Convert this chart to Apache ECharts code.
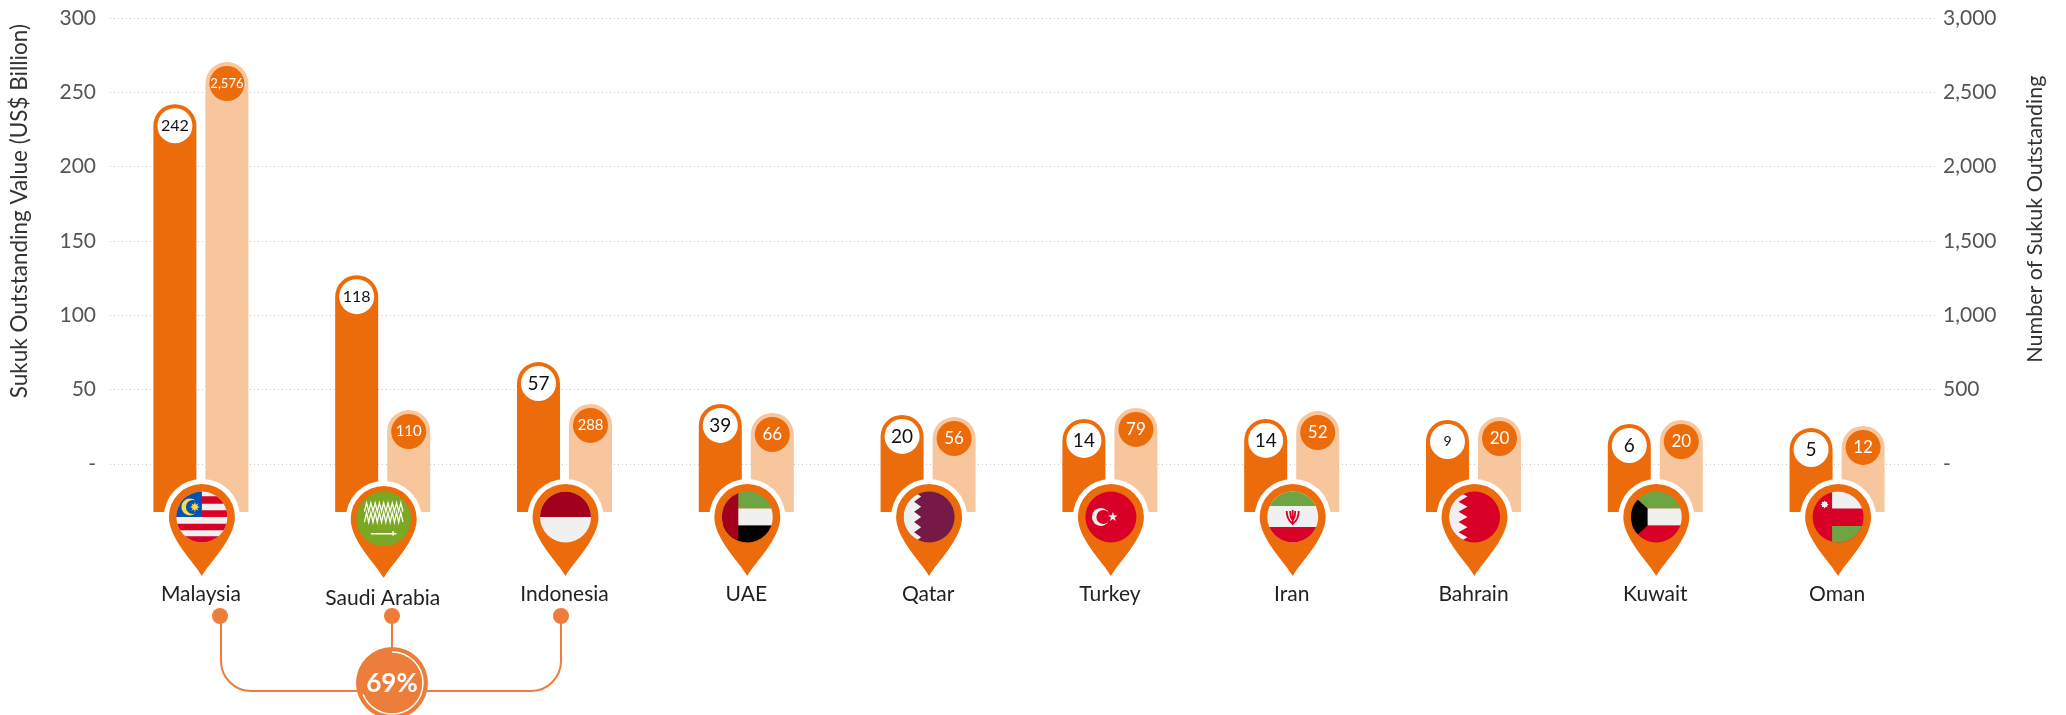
<!DOCTYPE html>
<html><head><meta charset="utf-8">
<style>html,body{margin:0;padding:0;background:#fff}#c{width:2066px;height:715px}</style>
<script src="https://cdn.jsdelivr.net/npm/echarts@6/dist/echarts.min.js"></script>
</head><body><div id="c"></div>
<script>
const categories = ['Malaysia','Saudi Arabia','Indonesia','UAE','Qatar','Turkey','Iran','Bahrain','Kuwait','Oman'];
// Printed values
const valueLabels = [242,118,57,39,20,14,14,9,6,5];
const countLabels = [2576,110,288,66,56,79,52,20,20,12];
// Bar tops as read against each axis in the picture
const valueBarTops = [242,127,68.6,40.4,33,30.3,30.3,29.6,26.9,24.2];
const countBarTops = [2704,363,404,343,316,377,356,316,296,256];
// The bars run on below the zero line, behind the pins
const valueBarFoot = [-32.3,-32.3,-32.3,-32.3,-32.3,-32.3,-32.3,-32.3,-32.3,-32.3];
const countBarFoot = [-323,-323,-323,-323,-323,-323,-323,-323,-323,-323];
const leftTitle = 'Sukuk Outstanding Value (US$ Billion)';
const rightTitle = 'Number of Sukuk Outstanding';
const topThreeShare = '69%';
const topThreeShareValue = 69;

const ORANGE='#EC6B0B', LIGHT='#F7C69D', ACCENT='#EC7D3A', FONT='Lato, "Open Sans", sans-serif';
const RED='#D80027', WHITE='#F0F0F0', GREEN='#6DA544', DARK='#A2001D', BLUE='#0052B4', YEL='#FFDA44';
const rect=(x,y,w,h,fill)=>({type:'rect',shape:{x,y,width:w,height:h},style:{fill}});
const poly=(points,fill)=>({type:'polygon',shape:{points},style:{fill}});
const circ=(cx,cy,r,fill)=>({type:'circle',shape:{cx,cy,r},style:{fill}});
function star(cx,cy,R,r,n,fill,rot){const p=[];for(let k=0;k<2*n;k++){const a=(rot||-Math.PI/2)+k*Math.PI/n,q=k%2?r:R;p.push([cx+q*Math.cos(a),cy+q*Math.sin(a)]);}return poly(p,fill);}
function serrated(xa,xb,fill){const p=[[-30,-30],[xb,-30]];const n=5,h=51/n;for(let k=0;k<n;k++){const y=-25.5+k*h;p.push([xb,y],[xa,y+h/2]);}p.push([xb,25.5],[xb,30],[-30,30]);return poly(p,fill);}
const flags={
 'Malaysia':()=>{const c=[rect(-30,-30,60,60,WHITE)];[[-20.7,-13.3],[-6.7,0],[6.7,13.3],[19.3,30]].forEach(b=>c.push(rect(-30,b[0],60,b[1]-b[0],RED)));
   c.push(rect(-30,-30,30,30,BLUE),circ(-12,-10,8.5,YEL),circ(-9,-10,7,BLUE),star(-7,-10,5,2.4,8,YEL));return c;},
 'Saudi Arabia':()=>{const c=[rect(-30,-30,60,60,'#7AA825')];
   c.push({type:'path',shape:{pathData:'M-18 -7 L-16 -15 L-14 -7 L-12 -15 L-10 -7 L-8 -15 L-6 -7 L-4 -15 L-2 -7 L0 -15 L2 -7 L4 -15 L6 -7 L8 -15 L10 -7 L12 -15 L14 -7 L16 -15 L18 -7 M-18 3 L-16 -6 L-14 3 L-12 -6 L-10 3 L-8 -6 L-6 3 L-4 -6 L-2 3 L0 -6 L2 3 L4 -6 L6 3 L8 -6 L10 3 L12 -6 L14 3 L16 -6 L18 3'},style:{fill:null,stroke:'#fff',lineWidth:1.2}});
   c.push(rect(-12,13,24,1.6,'#fff'),rect(8,11.5,1.6,4,'#fff'));return c;},
 'Indonesia':()=>[rect(-30,-30,60,60,WHITE),rect(-30,-30,60,30,DARK)],
 'UAE':()=>[rect(-30,-30,60,21.5,GREEN),rect(-30,-8.5,60,17,WHITE),rect(-30,8.5,60,22,'#000'),rect(-30,-30,21,60,DARK)],
 'Qatar':()=>[rect(-30,-30,60,60,'#751A46'),serrated(-8,-15,WHITE)],
 'Turkey':()=>[rect(-30,-30,60,60,RED),circ(-10,0,9,WHITE),circ(-7.5,0,7,RED),star(2,0,5,2,5,WHITE)],
 'Iran':()=>[rect(-30,-30,60,60,WHITE),rect(-30,-30,60,19,GREEN),rect(-30,10,60,20,RED),
   {type:'path',shape:{pathData:'M-6 -6 C-6 3 -2 5 0 7 C2 5 6 3 6 -6 M-2.5 -6 C-2.5 0 -1 2 0 3 C1 2 2.5 0 2.5 -6 M0 -7 L0 7'},style:{fill:null,stroke:RED,lineWidth:1.8}}],
 'Bahrain':()=>[rect(-30,-30,60,60,RED),serrated(-7,-16,WHITE)],
 'Kuwait':()=>[rect(-30,-30,60,21.5,GREEN),rect(-30,-8.5,60,17,WHITE),rect(-30,8.5,60,22,RED),poly([[-30,-17],[-18,-17],[-8.7,-8.5],[-8.7,8.5],[-18,17],[-30,17]],'#000')],
 'Oman':()=>[rect(-30,-30,60,60,RED),rect(-6,-30,40,21.5,WHITE),rect(-6,9,40,22,GREEN),star(-13.5,-12.5,4,2.6,8,WHITE)]
};
function renderPin(params,api){
  const i=api.value(0), p=api.coord([i,0]), name=categories[i];
  const big=name==='Saudi Arabia', dy=big?2:0, fr=big?27.3:25.5;
  return {type:'group',x:p[0]+1,y:p[1]+53+dy,silent:true,children:[
    circ(0,0,38,'#fff'),
    {type:'path',shape:{pathData:'M0 59 C-7 46 -33 22 -33 0 A33 33 0 1 1 33 0 C33 22 7 46 0 59 Z'},style:{fill:ORANGE}},
    {type:'group',scaleX:fr/25.5,scaleY:fr/25.5,clipPath:{type:'circle',shape:{cx:0,cy:0,r:25.5}},children:flags[name]()}
  ]};
}
const badge=(bg,color)=>({show:true,position:'insideTop',distance:4,
  backgroundColor:bg,color,width:35,height:35,borderRadius:18,lineHeight:35,
  fontFamily:FONT});
const valueSize=v=>v===9?14:(v>=100?16:19);
const countSize=v=>v>=1000?13:(v>=100?15:17);
const barData=(tops,labels,size)=>tops.map((t,i)=>({value:t,label:{
  formatter:labels[i].toLocaleString('en-US'),fontSize:size(labels[i])}}));
const tick=(v)=>v<0?'':(v===0?'-':v.toLocaleString('en-US'));
const yBase={type:'value',axisLine:{show:false},axisTick:{show:false},nameLocation:'middle'};
const nameStyle=(fontSize,lift)=>({fontFamily:FONT,fontSize,color:'#333',padding:[0,0,0,lift]});
const seg=(x1,y1,x2,y2)=>({type:'line',shape:{x1,y1,x2,y2},style:{stroke:ACCENT,lineWidth:2}});
const corner=(cx,cy,a,b)=>({type:'arc',shape:{cx,cy,r:30,startAngle:a,endAngle:b,clockwise:true},style:{fill:null,stroke:ACCENT,lineWidth:2}});
const barBase={type:'bar',xAxisIndex:1,barWidth:43,barGap:'21%'};
const foot=(data,stack,yAxisIndex,color)=>({...barBase,stack,yAxisIndex,data,itemStyle:{color},silent:true});
const hiddenY=(min,max,interval)=>({type:'value',gridIndex:1,min,max,interval,show:false,splitLine:{show:false}});
const chart=echarts.init(document.getElementById('c'),null,{renderer:'canvas'});
chart.setOption({
  animation:false,backgroundColor:'#fff',
  grid:[
    {left:108,top:18,width:1827,height:520.3},   // axes and gridlines
    {left:110,top:18,width:1818,height:520.3}    // columns
  ],
  xAxis:[
    {type:'category',gridIndex:0,data:categories,show:false},
    {type:'category',gridIndex:1,data:categories.map(n=>n==='Saudi Arabia'?{value:n,textStyle:{padding:[4,0,0,0]}}:n),
      position:'bottom',axisLine:{show:false,onZero:false},axisTick:{show:false},
      axisLabel:{interval:0,margin:45,fontFamily:FONT,fontSize:21,color:'#222'}}
  ],
  yAxis:[
    {...yBase,gridIndex:0,min:-50,max:300,interval:50,position:'left',name:leftTitle,nameGap:79,nameRotate:90,
      nameTextStyle:nameStyle(22.5,134),
      axisLabel:{margin:14,fontFamily:FONT,fontSize:21,color:'#555',formatter:tick},
      splitLine:{show:true,showMinLine:false,lineStyle:{type:[1,3],color:'#c8c8c8',width:1}}},
    {...yBase,gridIndex:0,min:-500,max:3000,interval:500,position:'right',name:rightTitle,nameGap:89,nameRotate:90,
      nameTextStyle:nameStyle(21.5,118),
      axisLabel:{margin:8,fontFamily:FONT,fontSize:21,color:'#555',formatter:tick},
      splitLine:{show:false}},
    hiddenY(-50,300,50),
    hiddenY(-500,3000,500)
  ],
  series:[
    foot(valueBarFoot,'value',2,ORANGE),
    foot(countBarFoot,'count',3,LIGHT),
    {...barBase,name:'Value',stack:'value',yAxisIndex:2,data:barData(valueBarTops,valueLabels,valueSize),
      itemStyle:{color:ORANGE,borderRadius:[21.5,21.5,0,0]},label:badge('#fff','#111')},
    {...barBase,name:'Count',stack:'count',yAxisIndex:3,data:barData(countBarTops,countLabels,countSize),
      itemStyle:{color:LIGHT,borderRadius:[21.5,21.5,0,0]},label:badge(ORANGE,'#fff')},
    {type:'custom',xAxisIndex:1,yAxisIndex:2,z:10,clip:false,renderItem:renderPin,data:categories.map((_,i)=>[i]),encode:{x:0},silent:true}
  ],
  graphic:[
    {type:'group',z:20,silent:true,children:[
      {type:'circle',shape:{cx:220,cy:616,r:8},style:{fill:ACCENT}},
      {type:'circle',shape:{cx:392,cy:616,r:8},style:{fill:ACCENT}},
      {type:'circle',shape:{cx:561,cy:616,r:8},style:{fill:ACCENT}},
      seg(221,616,221,661),corner(251,661,Math.PI/2,Math.PI),seg(251,691,531,691),corner(531,661,0,Math.PI/2),seg(561,661,561,616),seg(392,616,392,650),
      {type:'circle',shape:{cx:392,cy:683,r:36},style:{fill:ACCENT}},
      {type:'arc',shape:{cx:392,cy:683,r:31,startAngle:-Math.PI/2,endAngle:-Math.PI/2+2*Math.PI*topThreeShareValue/100,clockwise:true},style:{fill:null,stroke:'#fff',lineWidth:1.5}},
      {type:'text',x:392,y:684,style:{text:topThreeShare,fill:'#fff',fontFamily:FONT,fontSize:26,fontWeight:'bold',align:'center',verticalAlign:'middle'}}
    ]}
  ]
});
</script></body></html>
